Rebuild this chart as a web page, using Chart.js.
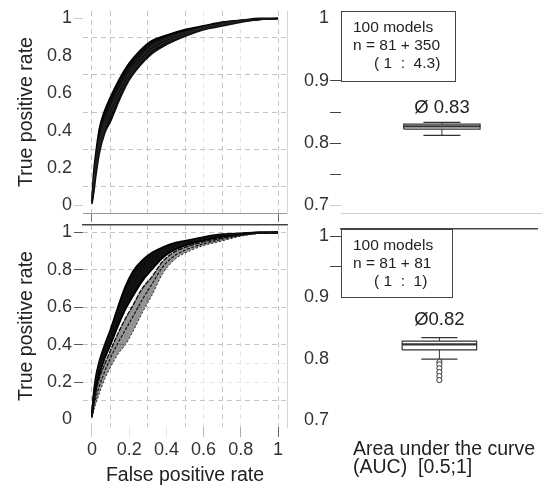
<!DOCTYPE html>
<html><head><meta charset="utf-8">
<script src="https://cdn.jsdelivr.net/npm/chart.js@4/dist/chart.umd.min.js"></script>
<style>
html,body{margin:0;padding:0;background:#fff;}
#wrap{position:relative;width:542px;height:485px;overflow:hidden;background:#fff;}
canvas{position:absolute;}
</style></head><body>
<div id="wrap">
<canvas id="tl" width="300" height="224" style="left:0;top:0;width:300px;height:224px"></canvas>
<canvas id="bl" width="300" height="261" style="left:0;top:224px;width:300px;height:261px"></canvas>
<canvas id="tr" width="242" height="224" style="left:300px;top:0;width:242px;height:224px"></canvas>
<canvas id="br" width="242" height="261" style="left:300px;top:224px;width:242px;height:261px"></canvas>
</div>
<script>
// ---------- data ----------
const rocTicks = [0, 0.2, 0.4, 0.6, 0.8, 1];
const aucTicks = [0.7, 0.75, 0.8, 0.85, 0.9, 0.95, 1];
const aucLabeled = [0.7, 0.8, 0.9, 1];

const fprTop = [0,0.01,0.02,0.04,0.07,0.1,0.15,0.2,0.26,0.32,0.4,0.5,0.6,0.7,0.8,0.9,1];
const tprTopA = [0.02,0.18,0.27,0.41,0.51,0.58,0.68,0.76,0.83,0.88,0.91,0.94,0.96,0.98,0.99,1,1];
const tprTopB = [0.02,0.15,0.24,0.37,0.48,0.55,0.65,0.73,0.81,0.86,0.9,0.93,0.955,0.975,0.99,0.995,1];
const tprTopC = [0.02,0.12,0.21,0.34,0.45,0.52,0.63,0.71,0.79,0.85,0.89,0.925,0.95,0.97,0.985,0.995,1];
const tprTopD = [0.01,0.09,0.18,0.31,0.42,0.49,0.6,0.69,0.77,0.83,0.875,0.915,0.945,0.965,0.985,0.995,1];
const tprTopE = [0.01,0.07,0.15,0.28,0.39,0.45,0.57,0.67,0.75,0.81,0.86,0.905,0.94,0.96,0.98,0.995,1];

const fprBot = [0,0.01,0.02,0.04,0.07,0.1,0.14,0.18,0.22,0.27,0.32,0.38,0.45,0.5,0.6,0.7,0.8,0.9,1];
const tprBotA = [0.02,0.14,0.22,0.31,0.40,0.48,0.60,0.71,0.79,0.85,0.89,0.92,0.945,0.955,0.975,0.99,0.995,1,1];
const tprBotB = [0.02,0.13,0.20,0.29,0.38,0.46,0.57,0.67,0.75,0.82,0.86,0.90,0.935,0.947,0.97,0.986,0.993,1,1];
const tprBotC = [0.02,0.12,0.19,0.27,0.36,0.43,0.54,0.63,0.71,0.78,0.83,0.885,0.925,0.94,0.964,0.981,0.991,0.999,1];
const tprBotD = [0.015,0.10,0.16,0.24,0.33,0.40,0.50,0.59,0.66,0.74,0.80,0.865,0.91,0.93,0.957,0.976,0.989,0.998,1];
const tprBotE = [0.015,0.09,0.14,0.22,0.30,0.37,0.46,0.54,0.61,0.70,0.76,0.845,0.90,0.92,0.95,0.97,0.987,0.997,1];
const tprBotF = [0.01,0.07,0.11,0.18,0.26,0.33,0.41,0.48,0.55,0.64,0.72,0.815,0.88,0.905,0.94,0.964,0.984,0.996,1];
const tprBotG = [0.01,0.05,0.08,0.14,0.22,0.28,0.35,0.40,0.47,0.57,0.66,0.78,0.86,0.89,0.93,0.955,0.98,0.995,1];

// AUC box statistics: [lower whisker, Q1, median, Q3, upper whisker]
const aucTop = [0.8125, 0.8226, 0.827, 0.8306, 0.8333];
const aucBottom = [0.799, 0.8141, 0.8231, 0.8285, 0.8343];
const aucBottomOutliers = [0.7945, 0.7905, 0.7841, 0.7777, 0.7713, 0.7648];
const aucTopOutliers = [];

const infoTop = ['100 models', 'n = 81 + 350', '( 1  :  4.3)'];
const infoBottom = ['100 models', 'n = 81 + 81', '( 1  :  1)'];
const meanTop = 'Ø 0.83';
const meanBottom = 'Ø0.82';
const aucCaption = ['Area under the curve', '(AUC)  [0.5;1]'];

const gridXVals = [0, 0.1, 0.3, 0.5, 0.6, 0.7, 0.8, 1];
const gridXFaint = [0.6, 0.8];
const gridYTop = [0.1, 0.3, 0.5, 0.7, 0.9];
const gridYBottom = [0.1, 0.2, 0.3, 0.4, 0.6, 0.8, 1];
const gridYBottomFaint = [0.2, 0.3];

// ---------- helpers ----------
const FONT = '"Liberation Sans", Arial, Helvetica, sans-serif';
const ROC_MIN = -0.048, ROC_MAX = 1.048, TPR_MIN = -0.04, TPR_MAX = 1.04;
const AUC_MIN = 0.688, AUC_MAX = 1.012;
const BOX_X = 0.502, BOX_HALF = 0.19, CAP_HALF = 0.092;
const CLEAR = 'rgba(0,0,0,0)';

function fixScale(size) {
  return s => {
    if (s.isHorizontal()) s.height = size; else s.width = size;
    s.paddingTop = s.paddingBottom = s.paddingLeft = s.paddingRight = 0;
  };
}
function setTicks(vals) { return s => { s.ticks = vals.map(v => ({value: v})); }; }
function near(a, b) { return Math.abs(a - b) < 1e-6; }
function colorMap(map, def) {
  return ctx => {
    if (!ctx.tick) return def;
    for (const k in map) if (near(+k, ctx.tick.value)) return map[k];
    return def;
  };
}

function gridScale(pos, min, max, vals, faint) {
  return {
    type: 'linear', position: pos, min, max,
    afterBuildTicks: setTicks(vals), afterFit: fixScale(0),
    ticks: {display: false},
    grid: {drawTicks: false, lineWidth: 1,
      color: ctx => (ctx.tick && faint.some(f => near(f, ctx.tick.value))) ? '#e6e6e6' : '#c4c4c4'},
    border: {display: false, dash: [5, 4]}
  };
}
function plainScale(pos, color, width) {
  return {
    type: 'linear', position: pos, afterFit: fixScale(0),
    ticks: {display: false},
    grid: {drawOnChartArea: false, drawTicks: false},
    border: {display: !!color, color: color || CLEAR, width: width || 1}
  };
}

function curveDs(fpr, tpr, width, color, dash, fill, fillColor) {
  return {
    data: fpr.map((x, i) => ({x, y: tpr[i]})),
    showLine: true, pointRadius: 0, borderColor: color, borderWidth: width,
    borderDash: dash || [], cubicInterpolationMode: 'monotone',
    fill: fill === undefined ? false : fill, backgroundColor: fillColor || CLEAR,
    xAxisID: 'x', yAxisID: 'y'
  };
}

function boxDatasets(stats, outliers) {
  const [lw, q1, med, q3, uw] = stats;
  const c = BOX_X, h = BOX_HALF, k = CAP_HALF;
  const line = (pts, w) => ({
    data: pts.map(([x, y]) => ({x, y})), showLine: true, pointRadius: 0,
    borderColor: '#333', borderWidth: w, fill: false, xAxisID: 'x', yAxisID: 'y'
  });
  return [
    {data: outliers.map(v => ({x: c, y: v})), showLine: false, pointRadius: 2.6,
      pointBorderWidth: 1, pointBorderColor: '#333', pointBackgroundColor: '#fff',
      xAxisID: 'x', yAxisID: 'y'},
    line([[c - h, med], [c + h, med]], 2.2),
    line([[c - h, q1], [c + h, q1], [c + h, q3], [c - h, q3], [c - h, q1]], 1.2),
    line([[c, lw], [c, q1]], 1),
    line([[c, q3], [c, uw]], 1),
    line([[c - k, lw], [c + k, lw]], 1.2),
    line([[c - k, uw], [c + k, uw]], 1.2)
  ];
}

const annot = {
  id: 'annot',
  afterDraw(chart, args, o) {
    const {ctx, chartArea: ca, scales} = chart;
    const x = scales.x, y = scales.y;
    ctx.save();
    if (o.info) {
      const l = ca.left, t = ca.top;
      const r = x.getPixelForValue(0.567), b = y.getPixelForValue(0.9);
      ctx.fillStyle = '#fff';
      ctx.fillRect(l, t, r - l, b - t);
      ctx.strokeStyle = '#444'; ctx.lineWidth = 1;
      ctx.strokeRect(Math.round(l) + 0.5, Math.round(t) + 0.5, Math.round(r - l), Math.round(b - t));
      ctx.font = '15.5px ' + FONT; ctx.fillStyle = '#222';
      ctx.textAlign = 'left'; ctx.textBaseline = 'middle';
      o.info.forEach((s, i) => ctx.fillText(s, l + 12 + (i === 2 ? 21 : 0), t + 16.5 + 18 * i));
    }
    if (o.mean) {
      ctx.font = '18.5px ' + FONT; ctx.fillStyle = '#222';
      ctx.textAlign = 'center'; ctx.textBaseline = 'middle';
      ctx.fillText(o.mean, x.getPixelForValue(BOX_X), y.getPixelForValue(o.meanAt));
    }
    if (o.caption) {
      ctx.font = '19.5px ' + FONT; ctx.fillStyle = '#222';
      ctx.textAlign = 'left'; ctx.textBaseline = 'middle';
      o.caption.forEach((s, i) => ctx.fillText(s, ca.left + 12, ca.bottom + 23 + 18 * i));
    }
    ctx.restore();
  }
};

const base = {
  responsive: false, animation: false, events: [], devicePixelRatio: 1,
  plugins: {legend: {display: false}, tooltip: {enabled: false}, title: {display: false},
    filler: {propagate: false, drawTime: 'beforeDatasetsDraw'}}
};

function yTitle(text) {
  return {display: true, text, color: '#222', font: {family: FONT, size: 19.5, lineHeight: 1}, padding: {top: 17, bottom: 0}};
}

// ---------- top-left ROC ----------
new Chart(document.getElementById('tl'), {
  type: 'scatter',
  data: {datasets: [
    curveDs(fprTop, tprTopE, 1.6, '#111'),
    curveDs(fprTop, tprTopD, 1.6, '#222'),
    curveDs(fprTop, tprTopC, 1.6, '#222'),
    curveDs(fprTop, tprTopB, 1.6, '#111'),
    curveDs(fprTop, tprTopA, 1.8, '#000', null, '-4', '#0d0d0d')
  ]},
  options: Object.assign({}, base, {
    layout: {padding: {top: 11, right: 13, left: 0, bottom: 0}},
    scales: {
      x: {type: 'linear', position: 'bottom', min: ROC_MIN, max: ROC_MAX,
        afterBuildTicks: setTicks(rocTicks), afterFit: fixScale(11),
        ticks: {display: false},
        grid: {drawOnChartArea: false, tickLength: 9, tickColor: colorMap({0: '#777', 1: '#666'}, CLEAR)},
        border: {display: true, color: '#9a9a9a', width: 1}},
      xg: gridScale('bottom', ROC_MIN, ROC_MAX, gridXVals, gridXFaint),
      y: {type: 'linear', position: 'left', min: TPR_MIN, max: TPR_MAX,
        afterBuildTicks: setTicks(rocTicks), afterFit: fixScale(83),
        ticks: {font: {family: FONT, size: 18}, color: '#333', padding: 2, autoSkip: false, callback: v => String(v)},
        grid: {drawOnChartArea: false, tickLength: 9, tickColor: colorMap({0: '#ccc', 1: '#ccc'}, CLEAR)},
        border: {display: false},
        title: yTitle('True positive rate')},
      yg: gridScale('left', TPR_MIN, TPR_MAX, gridYTop, []),
      yr: Object.assign(plainScale('right', '#d4d4d4'), {min: TPR_MIN, max: TPR_MAX})
    }
  })
});

// ---------- bottom-left ROC ----------
new Chart(document.getElementById('bl'), {
  type: 'scatter',
  data: {datasets: [
    curveDs(fprBot, tprBotG, 1, '#222', [2, 2]),
    curveDs(fprBot, tprBotF, 1.2, '#111', [3, 1.5]),
    curveDs(fprBot, tprBotE, 1.4, '#111', [5, 1], '-2', 'rgba(0,0,0,0.42)'),
    curveDs(fprBot, tprBotD, 1.8, '#000'),
    curveDs(fprBot, tprBotC, 1.8, '#111'),
    curveDs(fprBot, tprBotB, 1.8, '#111'),
    curveDs(fprBot, tprBotA, 2, '#000', null, '-3', '#101010')
  ]},
  options: Object.assign({}, base, {
    layout: {padding: {top: 1, right: 13, left: 0, bottom: 0}},
    scales: {
      x: {type: 'linear', position: 'bottom', min: ROC_MIN, max: ROC_MAX,
        afterBuildTicks: setTicks(rocTicks), afterFit: fixScale(58),
        ticks: {font: {family: FONT, size: 18}, color: '#333', padding: 2, autoSkip: false, maxRotation: 0, callback: v => String(v)},
        grid: {drawOnChartArea: false, tickLength: 10,
          tickColor: colorMap({0: '#ccc', 0.6: '#bbb', 0.8: '#aaa', 1: '#666'}, '#e8e8e8')},
        border: {display: false},
        title: {display: true, text: 'False positive rate', color: '#222', font: {family: FONT, size: 19.5, lineHeight: 1}, padding: {top: 0, bottom: 0}}},
      xg: gridScale('bottom', ROC_MIN, ROC_MAX, gridXVals, gridXFaint),
      x2: plainScale('top', '#444', 1.5),
      y: {type: 'linear', position: 'left', min: TPR_MIN, max: TPR_MAX,
        afterBuildTicks: setTicks(rocTicks), afterFit: fixScale(83),
        ticks: {font: {family: FONT, size: 18}, color: '#333', padding: 2, autoSkip: false, callback: v => String(v)},
        grid: {drawOnChartArea: false, tickLength: 9, tickColor: colorMap({0: CLEAR}, '#555')},
        border: {display: false},
        title: yTitle('True positive rate')},
      yg: gridScale('left', TPR_MIN, TPR_MAX, gridYBottom, gridYBottomFaint),
      yr: Object.assign(plainScale('right', '#d4d4d4'), {min: TPR_MIN, max: TPR_MAX})
    }
  })
});

// ---------- AUC box plots ----------
function aucChart(id, stats, outliers, opts) {
  new Chart(document.getElementById(id), {
    type: 'scatter',
    data: {datasets: boxDatasets(stats, outliers)},
    plugins: [annot],
    options: Object.assign({}, base, {
      layout: {padding: {top: opts.top, right: 0, left: 0, bottom: 0}},
      plugins: Object.assign({}, base.plugins, {annot: opts.annot}),
      scales: {
        x: Object.assign(plainScale('bottom', opts.bottomBorder), {min: 0, max: 1, afterFit: fixScale(opts.xh)}),
        x2: plainScale('top', opts.topBorder, 1.5),
        y: {type: 'linear', position: 'left', min: AUC_MIN, max: AUC_MAX,
          afterBuildTicks: setTicks(aucTicks), afterFit: fixScale(41),
          ticks: {font: {family: FONT, size: 18}, color: '#333', padding: 1, autoSkip: false,
            callback: v => aucLabeled.some(a => near(a, v)) ? String(v) : ''},
          grid: {drawOnChartArea: false, tickLength: 11, tickColor: colorMap(opts.tickMap, CLEAR)},
          border: {display: false}}
      }
    })
  });
}

aucChart('tr', aucTop, aucTopOutliers, {
  top: 11, xh: 11, bottomBorder: '#cfcfcf', topBorder: null,
  tickMap: {0.7: '#ccc', 0.75: '#444', 0.8: '#444', 0.85: '#444', 0.9: '#444'},
  annot: {info: infoTop, mean: meanTop, meanAt: 0.856}
});
aucChart('br', aucBottom, aucBottomOutliers, {
  top: 1, xh: 58, bottomBorder: null, topBorder: '#444',
  tickMap: {0.95: '#444', 1: '#444'},
  annot: {info: infoBottom, mean: meanBottom, meanAt: 0.8627, caption: aucCaption}
});
</script>
</body></html>
